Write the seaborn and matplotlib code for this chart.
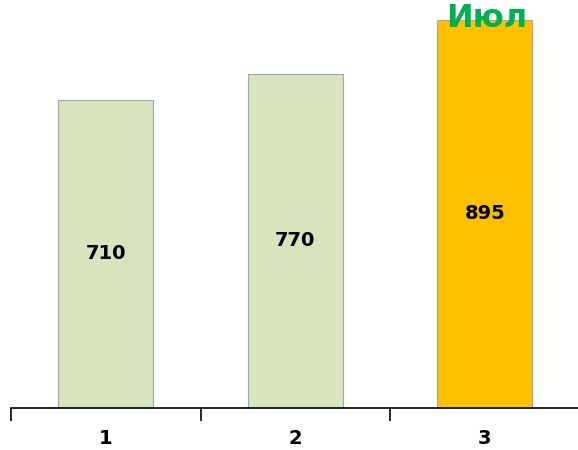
import matplotlib
matplotlib.use("Agg")
import matplotlib.pyplot as plt
import seaborn as sns
import pandas as pd
from matplotlib.ticker import FixedLocator

categories = ["1", "2", "3"]
values = [710, 770, 895]
bar_colors = ["#d7e4bd", "#d7e4bd", "#ffc000"]
title_text = "Июл"

sns.set_style("white")
plt.rcParams['font.family'] = ['DejaVu Sans']

df = pd.DataFrame({"cat": categories, "val": values})

fig = plt.figure(figsize=(5.78, 4.5), dpi=100)
ax = fig.add_axes([11/578, 42/450, 568.5/578, 408/450])
sns.barplot(data=df, x="cat", y="val", hue="cat", palette=bar_colors, legend=False,
            width=0.5, edgecolor="#a6a6a6", linewidth=0.8, saturation=1, ax=ax)
ax.set_xlim(-0.5, 2.5)
ax.set_ylim(0, 940)
for s in ["top", "right", "left"]:
    ax.spines[s].set_visible(False)
ax.spines["bottom"].set_color("#000000")
ax.spines["bottom"].set_linewidth(1.2)
ax.set_yticks([])
ax.set_xlabel("")
ax.set_ylabel("")
ax.tick_params(axis="x", which="major", length=0, pad=15, labelsize=14, labelcolor="#000000")
for lab in ax.get_xticklabels():
    lab.set_fontweight("bold")
ax.xaxis.set_minor_locator(FixedLocator([-0.5, 0.5, 1.5, 2.5]))
ax.tick_params(axis="x", which="minor", length=9, width=1.2, color="#000000", direction="out", bottom=True)

for i, v in enumerate(values):
    ax.text(i, v / 2, str(v), ha="center", va="center", fontsize=14, fontweight="bold", color="#000000")

ax.text(2.01, 940 - 27 / 408 * 940, title_text, ha="center", va="baseline", fontsize=23,
        fontweight="bold", color="#00b050", clip_on=False)

fig.savefig("out.png", dpi=100)
